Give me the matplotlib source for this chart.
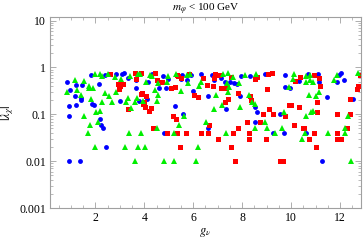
#!/usr/bin/env python3
"""
Scatter of |lambda_chi| vs g_nu for m_phi < 100 GeV
"""

import matplotlib
matplotlib.use('Agg')
import matplotlib.pyplot as plt
from matplotlib.ticker import LogLocator, MultipleLocator, FixedFormatter, FixedLocator

# blue circles
blue_x = [1.83, 2.39, 2.83, 3.08, 3.19, 3.33, 0.86, 1.21, 1.46, 2.15, 0.97, 1.16, 1.41,
          1.43, 1.87, 1.93, 0.94, 1.19, 3.00, 0.91, 2.18, 2.23, 2.31, 2.45, 0.91, 1.38,
          4.31, 4.75, 5.55, 5.90, 6.31, 3.65, 4.15, 4.97, 5.49, 5.74, 4.61, 4.89, 5.98,
          3.68, 4.12, 3.79, 6.59, 5.24, 5.60, 4.81,
          6.78, 6.84, 7.14, 7.30, 7.52, 7.66, 7.77, 7.96, 8.32, 8.95, 9.77, 7.90, 9.74,
          7.36, 8.54, 8.59, 9.55, 8.54, 6.62, 9.28, 9.69,
          10.71, 11.09, 11.97, 12.02, 10.32, 11.14, 11.86, 12.16, 9.94, 11.47, 12.51,
          10.62, 11.25]
blue_y = [0.69, 0.69, 0.74, 0.74, 0.77, 0.59, 0.50, 0.42, 0.42, 0.45, 0.33, 0.25, 0.22,
          0.20, 0.165, 0.155, 0.15, 0.16, 0.19, 0.09, 0.08, 0.06, 0.05, 0.02, 0.01, 0.01,
          0.72, 0.67, 0.69, 0.69, 0.72, 0.55, 0.50, 0.57, 0.57, 0.55, 0.37, 0.37, 0.32,
          0.36, 0.21, 0.19, 0.25, 0.15, 0.10, 0.04,
          0.69, 0.53, 0.59, 0.50, 0.48, 0.46, 0.45, 0.67, 0.65, 0.74, 0.69, 0.25, 0.38,
          0.13, 0.145, 0.11, 0.10, 0.07, 0.05, 0.04, 0.04,
          0.74, 0.72, 0.69, 0.77, 0.51, 0.50, 0.50, 0.53, 0.36, 0.23, 0.21,
          0.04, 0.01]

# red squares
red_x = [2.61, 2.94, 3.11, 3.02, 2.97, 3.33,
         3.60, 3.87, 4.45, 3.68, 4.53, 4.72, 5.33, 5.38, 5.49, 5.82, 6.40, 6.56, 5.24,
         5.08, 3.90, 3.85, 4.09, 3.98, 3.93, 6.04, 6.20, 4.04, 4.28, 4.20, 5.19, 5.30,
         4.37, 4.91, 5.33, 5.71, 6.31, 5.46,
         6.89, 7.06, 6.84, 7.55, 9.20, 9.06, 8.59, 8.54, 6.81, 7.14, 7.36, 9.00, 7.85,
         8.32, 8.37, 7.41, 7.30, 9.08, 9.28, 8.84, 9.77, 8.21, 8.73, 6.64, 7.85, 6.62,
         7.63, 8.29, 7.03, 8.26, 8.98, 7.55, 7.71, 9.55, 9.68,
         10.37, 10.95, 11.14, 10.16, 12.80, 11.20, 12.73, 12.68, 12.40, 11.06, 9.91,
         9.99, 10.32, 11.06, 11.88, 12.40, 10.13, 10.48, 10.54, 12.29, 10.95, 11.86,
         11.86, 12.05, 10.73, 11.03]
red_y = [0.72, 0.45, 0.45, 0.41, 0.34, 0.13,
         0.77, 0.77, 0.77, 0.57, 0.55, 0.50, 0.69, 0.65, 0.61, 0.72, 0.61, 0.43, 0.39,
         0.37, 0.29, 0.27, 0.25, 0.18, 0.17, 0.26, 0.23, 0.14, 0.135, 0.12, 0.09, 0.08,
         0.05, 0.04, 0.04, 0.04, 0.04, 0.02,
         0.72, 0.69, 0.61, 0.63, 0.77, 0.72, 0.63, 0.57, 0.41, 0.36, 0.36, 0.34, 0.29,
         0.24, 0.20, 0.21, 0.18, 0.13, 0.10, 0.10, 0.09, 0.07, 0.07, 0.06, 0.05, 0.04,
         0.04, 0.04, 0.03, 0.03, 0.03, 0.02, 0.01, 0.01, 0.01,
         0.63, 0.69, 0.59, 0.51, 0.69, 0.41, 0.41, 0.34, 0.21, 0.18, 0.155,
         0.16, 0.145, 0.11, 0.10, 0.10, 0.06, 0.05, 0.05, 0.05, 0.04, 0.04,
         0.03, 0.03, 0.03, 0.02]

# green triangles
green_x = [1.98, 2.20, 2.26, 2.50, 2.81, 3.05, 1.16, 1.54, 1.74, 1.76, 1.90, 1.24, 0.86,
           2.83, 2.39, 1.43, 2.56, 1.82, 2.28, 2.67, 3.27, 3.35, 2.20, 2.01, 1.54, 2.12,
           1.79, 1.68, 3.38, 1.98, 3.22,
           3.43, 3.74, 3.82, 4.23, 4.31, 4.97, 5.30, 5.74, 5.87, 4.09, 4.56, 4.91, 5.77,
           6.31, 4.45, 5.52, 6.23, 3.71, 4.56, 3.60, 3.96, 4.53, 3.46, 6.53, 5.41, 4.50,
           5.63, 3.85, 5.22, 3.74, 4.01, 6.18, 3.60, 4.81, 5.22, 6.12,
           7.22, 7.41, 7.63, 8.10, 8.56, 7.38, 7.47, 7.88, 6.95, 7.41, 8.26, 7.17, 6.84,
           7.93, 8.40, 8.54, 9.69, 8.92, 7.33, 8.54, 9.00, 9.33, 9.61,
           10.10, 10.59, 10.76, 10.07, 10.59, 10.79, 10.90, 11.77, 11.86, 12.73, 9.91,
           10.73, 11.03, 11.14, 10.90, 10.81, 10.59, 12.32, 12.19, 12.21, 10.57, 11.50,
           10.43, 12.46]
green_y = [0.74, 0.74, 0.67, 0.72, 0.63, 0.57, 0.53, 0.51, 0.41, 0.36, 0.36, 0.33, 0.30,
           0.30, 0.28, 0.26, 0.24, 0.21, 0.18, 0.18, 0.18, 0.22, 0.12, 0.11, 0.09, 0.07,
           0.06, 0.04, 0.04, 0.02, 0.02,
           0.67, 0.72, 0.74, 0.69, 0.65, 0.65, 0.74, 0.69, 0.72, 0.50, 0.46, 0.48, 0.46,
           0.50, 0.33, 0.31, 0.41, 0.22, 0.26, 0.18, 0.19, 0.19, 0.135, 0.07, 0.06, 0.05,
           0.09, 0.04, 0.04, 0.02, 0.02, 0.02, 0.01, 0.01, 0.01, 0.01,
           0.74, 0.77, 0.63, 0.69, 0.74, 0.46, 0.38, 0.46, 0.26, 0.30, 0.26, 0.155, 0.13,
           0.14, 0.18, 0.17, 0.11, 0.07, 0.04, 0.05, 0.05, 0.04, 0.05,
           0.72, 0.67, 0.69, 0.57, 0.50, 0.53, 0.48, 0.53, 0.69, 0.77, 0.39,
           0.26, 0.25, 0.30, 0.12, 0.11, 0.09, 0.09, 0.05, 0.04, 0.04, 0.04,
           0.03, 0.01]

y_ticks = [0.001, 0.01, 0.1, 1, 10]
y_tick_labels = ['0.001', '0.01', '0.1', '1', '10']
x_ticks = [2, 4, 6, 8, 10, 12]

plt.rcParams['font.family'] = ['Liberation Serif', 'DejaVu Serif']
plt.rcParams['mathtext.fontset'] = 'stix'

fig = plt.figure(figsize=(3.63, 2.45), dpi=100)
ax = fig.add_axes([0.138, 0.151, 0.856, 0.78])

ax.plot(blue_x, blue_y, 'o', color='#0000ff', markersize=3.5, markeredgewidth=0)
ax.plot(red_x, red_y, 's', color='#ff0000', markersize=3.6, markeredgewidth=0)
ax.plot(green_x, green_y, '^', color='#00ee00', markersize=4.1, markeredgewidth=0)

ax.set_yscale('log')
ax.set_xlim(0.15, 12.85)
ax.set_ylim(0.001, 12)

ax.yaxis.set_major_locator(FixedLocator(y_ticks))
ax.yaxis.set_major_formatter(FixedFormatter(y_tick_labels))
ax.yaxis.set_minor_locator(LogLocator(base=10, subs=range(2, 10)))
ax.set_xticks(x_ticks)
ax.xaxis.set_minor_locator(MultipleLocator(0.5))

for s in ax.spines.values():
    s.set_color('#a0a0a0')
    s.set_linewidth(0.8)

ax.tick_params(which='both', direction='in', top=True, right=True,
               colors='#a0a0a0', labelcolor='black', labelsize=8.5, pad=3)
ax.tick_params(which='major', length=4, width=0.6)
ax.tick_params(which='minor', length=2, width=0.5)

ax.set_title(r'$m_\varphi$ < 100 GeV', fontsize=8, pad=3)
ax.set_xlabel(r'$g_\nu$', fontsize=9, labelpad=1)
ax.set_ylabel(r'$|\lambda_\chi|$', fontsize=9, labelpad=2)

plt.savefig('out.png', dpi=100)
print("saved out.png")
